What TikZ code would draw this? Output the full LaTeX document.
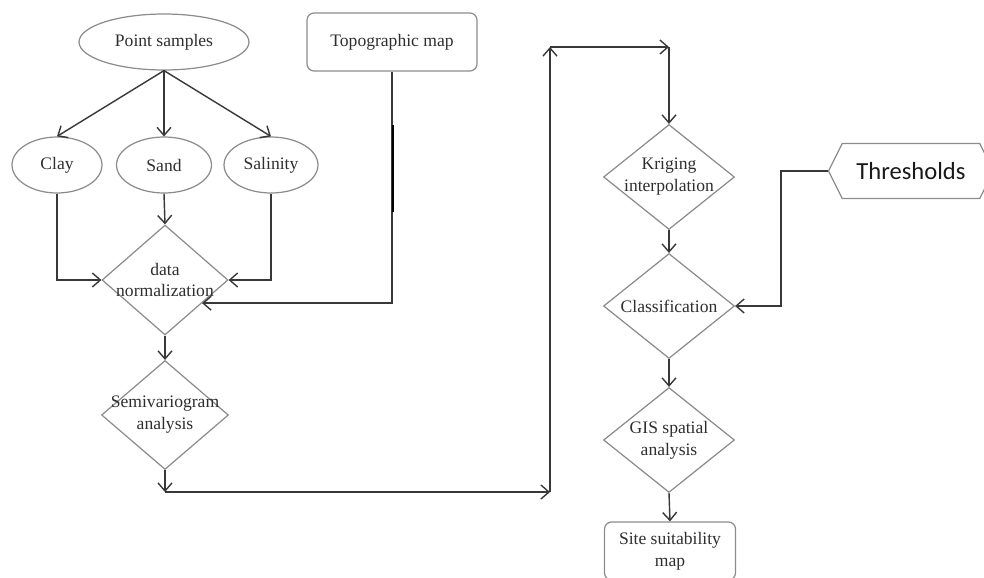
\documentclass[tikz,border=0pt]{standalone}
\usepackage{fontspec}
\setmainfont{Liberation Serif}
\newfontfamily\labelsans{Carlito}
\usetikzlibrary{shapes.geometric,shapes.symbols,arrows.meta}

\begin{document}
\begin{tikzpicture}[x=0.02cm,y=-0.02cm,
  every node/.style={font=\fontsize{10}{12.5}\selectfont, text=black!82},
  shapeline/.style={draw=black!45, line width=0.7pt},
  oval/.style={shapeline, ellipse, inner sep=0pt, minimum height=1.12cm},
  card/.style={shapeline, rectangle, rounded corners=4pt, inner sep=0pt, align=center},
  decide/.style={shapeline, diamond, inner sep=0pt, minimum width=2.62cm, minimum height=2.1cm},
  inside/.style={label={[align=center, text=black!82]center:#1}},
  flow/.style={draw=black!78, line width=0.8pt, -{Straight Barb[length=1.6mm,width=2.8mm]}},
]
\useasboundingbox (0,0) rectangle (984,578);

% input nodes
\node[oval, minimum width=3.4cm] (ps) at (164,42) {Point samples};
\node[card, minimum width=3.4cm, minimum height=1.16cm] (topo) at (392,42) {Topographic map};
\node[oval, minimum width=1.8cm] (clay) at (57,165) {Clay};
\node[oval, minimum width=1.9cm] (sand) at (164,165) {Sand};
\node[oval, minimum width=1.88cm] (sal) at (271,165) {Salinity};

% left processing column
\node[decide, minimum width=2.52cm, minimum height=2.2cm, inside={data\\normalization}] (norm) at (165,280) {};
\node[decide, minimum width=2.54cm, minimum height=2.18cm, inside={Semivariogram\\analysis}] (semi) at (165,415) {};

% right processing column
\node[decide, inside={Kriging\\interpolation}] (krig) at (669,177) {};
\node[decide, inside={Classification}] (cls) at (669,306) {};
\node[decide, inside={GIS spatial\\analysis}] (gis) at (669,440) {};
\node[card, minimum width=2.62cm, minimum height=1.16cm] (site) at (670,551) {Site suitability\\map};

\node[shapeline, signal, signal to=west and east, signal pointer angle=127,
      minimum width=3.3cm, minimum height=1.1cm, inner sep=0pt,
      text=black!90, font=\labelsans\fontsize{14}{16}\selectfont] (thr) at (911,171) {Thresholds};

% routing points
\coordinate (b1) at (165,492);
\coordinate (b2) at (550,492);
\coordinate (b3) at (550,47);
\coordinate (b4) at (669,47);
\coordinate (t1) at (781,171);
\coordinate (k1) at (393,125);
\coordinate (k2) at (393,212);

% connectors
\draw[flow] (ps.south) -- (clay.north);
\draw[flow] (ps.south) -- (sand.north);
\draw[flow] (ps.south) -- (sal.north);
\draw[flow] (clay.south) |- (norm.west);
\draw[flow] (sand.south) -- (norm.north);
\draw[flow] (sal.south) |- (norm.east);
\draw[flow] (topo.south) |- (norm.-32);
\draw[black, line width=1.7pt] (k1) -- (k2);
\draw[flow] (norm.south) -- (semi.north);
\draw[flow] (semi.south) -- (b1);
\draw[flow] (b1) -- (b2);
\draw[flow] (b2) -- (b3);
\draw[flow] (b3) -- (b4);
\draw[flow] (b4) -- (krig.north);
\draw[flow] (krig.south) -- (cls.north);
\draw[flow] (cls.south) -- (gis.north);
\draw[flow] (gis.south) -- (site.north);
\draw[flow] (thr.west) -- (t1) |- (cls.east);
\end{tikzpicture}
\end{document}
